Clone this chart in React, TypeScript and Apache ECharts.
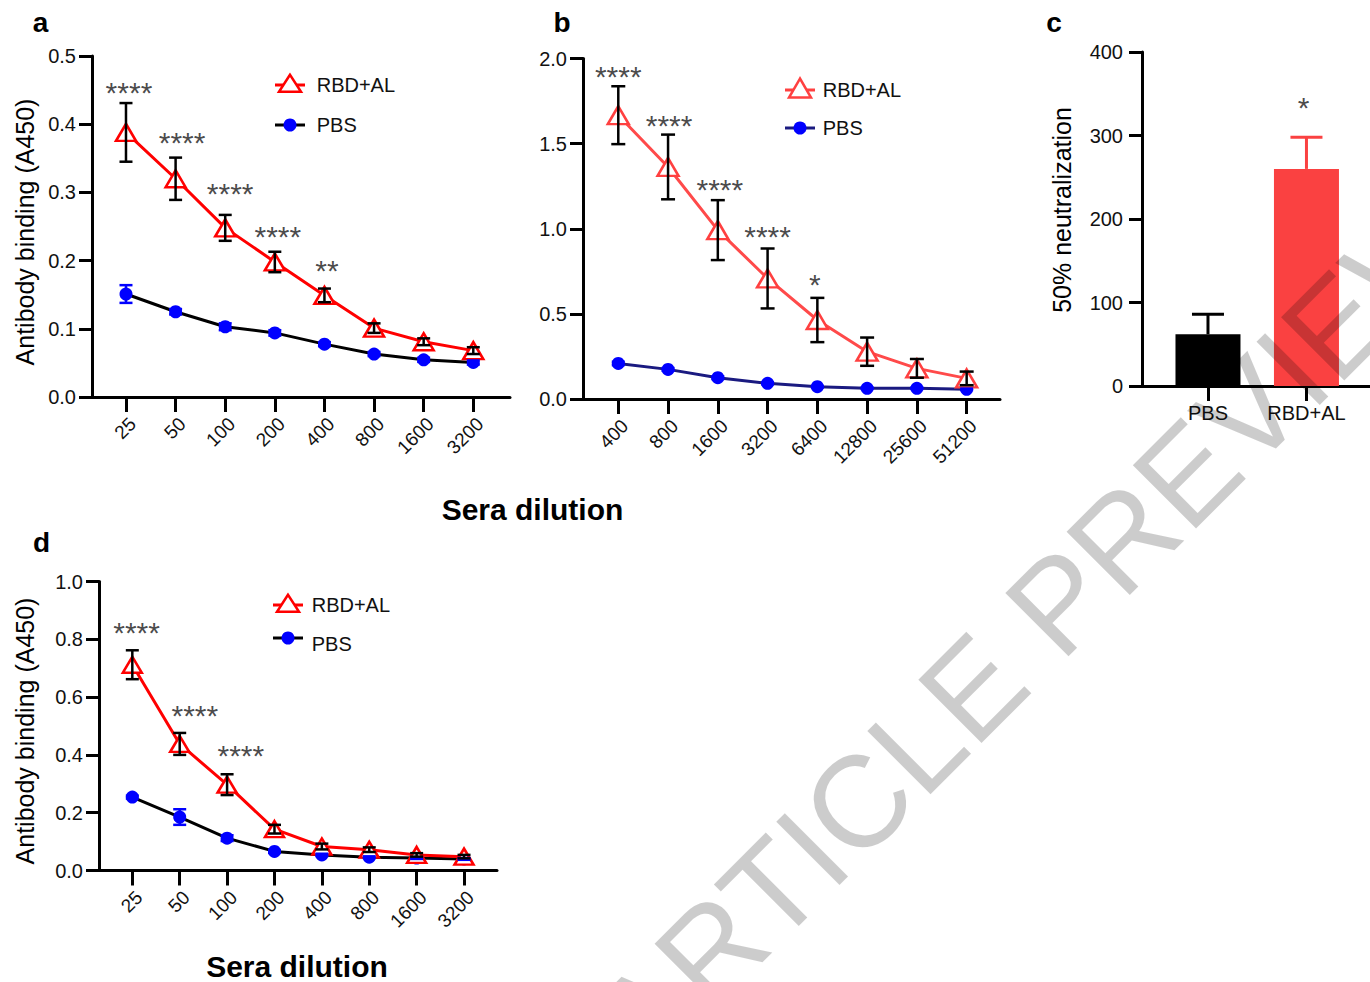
import React, { useEffect, useRef } from 'react';
import * as echarts from 'echarts';

// ---------- Data ----------
const dilutionsA = ['25', '50', '100', '200', '400', '800', '1600', '3200'];
const rbdA = [0.388, 0.32, 0.248, 0.198, 0.149, 0.101, 0.081, 0.068];
const rbdAErr = [0.043, 0.031, 0.019, 0.015, 0.01, 0.007, 0.005, 0.005];
const pbsA = [0.151, 0.125, 0.103, 0.094, 0.0775, 0.063, 0.0545, 0.0506];
const pbsAErr = [0.013, 0.004, 0.005, 0.004, 0.003, 0.003, 0.003, 0.003];
const starsA: [number, number, string][] = [
  [0.06, 0.447, '****'],
  [1.13, 0.3725, '****'],
  [2.1, 0.299, '****'],
  [3.06, 0.235, '****'],
  [4.05, 0.1855, '**'],
];

const dilutionsB = ['400', '800', '1600', '3200', '6400', '12800', '25600', '51200'];
const rbdB = [1.667, 1.363, 0.992, 0.708, 0.464, 0.278, 0.18, 0.121];
const rbdBErr = [0.17, 0.19, 0.176, 0.176, 0.13, 0.083, 0.055, 0.04];
const pbsB = [0.209, 0.174, 0.125, 0.092, 0.072, 0.063, 0.063, 0.057];
const pbsBErr = [0.01, 0.008, 0.008, 0.006, 0.005, 0.004, 0.004, 0.004];
const starsB: [number, number, string][] = [
  [0, 1.893, '****'],
  [1.02, 1.609, '****'],
  [2.04, 1.228, '****'],
  [3, 0.954, '****'],
  [3.95, 0.672, '*'],
];

const groupsC = ['PBS', 'RBD+AL'];
const meanC = [62, 260];
const errC = [24, 38];
const colorsC = ['#000000', '#fa4141'];
const starsC: [number, number, string][] = [[0.97, 334, '*']];

const dilutionsD = ['25', '50', '100', '200', '400', '800', '1600', '3200'];
const rbdD = [0.712, 0.438, 0.297, 0.143, 0.083, 0.072, 0.054, 0.048];
const rbdDErr = [0.05, 0.038, 0.036, 0.015, 0.01, 0.008, 0.006, 0.006];
const pbsD = [0.254, 0.185, 0.112, 0.066, 0.054, 0.046, 0.043, 0.04];
const pbsDErr = [0.005, 0.027, 0.01, 0.005, 0.004, 0.003, 0.003, 0.003];
const starsD: [number, number, string][] = [
  [0.09, 0.824, '****'],
  [1.32, 0.536, '****'],
  [2.29, 0.398, '****'],
];

const FONT = 'Liberation Sans, Arial, Helvetica, sans-serif';

// ---------- helpers ----------
const idx = (n: number) => Array.from({ length: n }, (_, i) => i);

function xAxisCat(gridIndex: number, labels: string[], min: number, max: number, rotate = 45, fontSize = 19) {
  const ticks = idx(labels.length);
  return {
    type: 'value',
    gridIndex,
    min,
    max,
    splitLine: { show: false },
    axisLine: { show: true, onZero: false, lineStyle: { color: '#000', width: 3 } },
    axisTick: { show: true, length: 15, customValues: ticks, lineStyle: { color: '#000', width: 3 } },
    axisLabel: {
      customValues: ticks,
      formatter: (v: number) => labels[Math.round(v)] ?? '',
      rotate,
      fontSize,
      color: '#111',
      fontFamily: FONT,
      margin: 17,
      verticalAlign: rotate ? 'top' : undefined,
    },
  };
}

function yAxisVal(gridIndex: number, max: number, interval: number, digits: number, fontSize = 20, margin = 16) {
  return {
    type: 'value',
    gridIndex,
    min: 0,
    max,
    interval,
    splitLine: { show: false },
    axisLine: { show: true, onZero: false, lineStyle: { color: '#000', width: 3 } },
    axisTick: { show: true, length: 13, lineStyle: { color: '#000', width: 3 } },
    axisLabel: {
      fontSize,
      color: '#111',
      fontFamily: FONT,
      margin,
      formatter: (v: number) => v.toFixed(digits),
    },
  };
}

function lineSeries(
  name: string,
  ai: number,
  values: number[],
  kind: 'tri' | 'dot',
  lineColor: string,
  markColor: string,
  triSize: [number, number] = [20, 17]
) {
  return {
    type: 'line',
    name,
    xAxisIndex: ai,
    yAxisIndex: ai,
    data: values.map((v, i) => [i, v]),
    symbol: kind === 'tri' ? 'triangle' : 'circle',
    symbolSize: kind === 'tri' ? triSize : 13,
    itemStyle:
      kind === 'tri'
        ? { color: '#ffffff', borderColor: markColor, borderWidth: 2.5 }
        : { color: markColor, borderWidth: 0 },
    lineStyle: { color: lineColor, width: 3 },
    z: kind === 'tri' ? 4 : 3,
    silent: true,
  };
}

function errSeries(ai: number, values: number[], errs: number[], color: string, capW: number, upOnly = false, lw = 2.5) {
  return {
    type: 'custom',
    xAxisIndex: ai,
    yAxisIndex: ai,
    data: values.map((v, i) => [i, v, errs[i]]),
    encode: { x: 0, y: 1 },
    clip: false,
    silent: true,
    z: 6,
    renderItem: (_p: any, api: any) => {
      const x = api.value(0);
      const y = api.value(1);
      const e = api.value(2);
      const top = api.coord([x, y + e]);
      const bot = api.coord([x, upOnly ? y : y - e]);
      const st = { stroke: color, lineWidth: lw };
      const children: any[] = [
        { type: 'line', shape: { x1: top[0], y1: top[1], x2: bot[0], y2: bot[1] }, style: st },
        { type: 'line', shape: { x1: top[0] - capW / 2, y1: top[1], x2: top[0] + capW / 2, y2: top[1] }, style: st },
      ];
      if (!upOnly) {
        children.push({
          type: 'line',
          shape: { x1: bot[0] - capW / 2, y1: bot[1], x2: bot[0] + capW / 2, y2: bot[1] },
          style: st,
        });
      }
      return { type: 'group', children };
    },
  };
}

function starSeries(ai: number, stars: [number, number, string][]) {
  return {
    type: 'scatter',
    xAxisIndex: ai,
    yAxisIndex: ai,
    data: stars,
    symbolSize: 1,
    itemStyle: { color: 'rgba(0,0,0,0)' },
    silent: true,
    z: 7,
    label: {
      show: true,
      position: 'inside',
      formatter: (p: any) => p.data[2],
      fontSize: 30,
      color: '#1a1a1a',
      fontFamily: FONT,
    },
  };
}

function legend(x0: number, yR: number, yP: number, yPT: number, redColor: string, pbsLine: string, tri: [number, number], textX: number) {
  const cx = x0 + 15;
  const [w, h] = tri;
  return [
    { type: 'line', shape: { x1: x0, y1: yR, x2: x0 + 30, y2: yR }, style: { stroke: redColor, lineWidth: 3 } },
    {
      type: 'polygon',
      shape: {
        points: [
          [cx, yR - h * 0.6],
          [cx - w / 2, yR + h * 0.4],
          [cx + w / 2, yR + h * 0.4],
        ],
      },
      style: { fill: '#fff', stroke: redColor, lineWidth: 2.5 },
    },
    { type: 'text', x: textX, y: yR, style: { text: 'RBD+AL', fontSize: 20, fontFamily: FONT, fill: '#111', verticalAlign: 'middle', align: 'left' } },
    { type: 'line', shape: { x1: x0, y1: yP, x2: x0 + 30, y2: yP }, style: { stroke: pbsLine, lineWidth: 3 } },
    { type: 'circle', shape: { cx, cy: yP, r: 6.5 }, style: { fill: '#0000ff' } },
    { type: 'text', x: textX, y: yPT, style: { text: 'PBS', fontSize: 20, fontFamily: FONT, fill: '#111', verticalAlign: 'middle', align: 'left' } },
  ];
}

function txt(x: number, y: number, text: string, fontSize: number, bold = false, rotation = 0, extra: any = {}) {
  return {
    type: 'text',
    x,
    y,
    rotation,
    style: {
      text,
      fontSize,
      fontWeight: bold ? 'bold' : 'normal',
      fontFamily: FONT,
      fill: '#000',
      align: 'center',
      verticalAlign: 'middle',
      ...extra,
    },
  };
}

export default function App() {
  const ref = useRef<HTMLDivElement>(null);
  useEffect(() => {
    if (!ref.current) return;
    const chart = echarts.init(ref.current, null, { renderer: 'svg' });
    const option: any = {
      animation: false,
      backgroundColor: '#ffffff',
      textStyle: { fontFamily: FONT },
      grid: [
        { left: 92, top: 56, width: 418, height: 341, outerBoundsMode: 'none', containLabel: false },
        { left: 583, top: 58.5, width: 417, height: 340.5, outerBoundsMode: 'none', containLabel: false },
        { left: 1142, top: 52, width: 240, height: 334, outerBoundsMode: 'none', containLabel: false },
        { left: 99, top: 581.5, width: 398, height: 289, outerBoundsMode: 'none', containLabel: false },
      ],
      xAxis: [
        xAxisCat(0, dilutionsA, -0.685, 7.74),
        xAxisCat(1, dilutionsB, -0.709, 7.67),
        xAxisCat(2, groupsC, -0.67, 1.767, 0, 20),
        xAxisCat(3, dilutionsD, -0.703, 7.696),
      ],
      yAxis: [
        yAxisVal(0, 0.5, 0.1, 1),
        yAxisVal(1, 2, 0.5, 1),
        yAxisVal(2, 400, 100, 0, 20, 19),
        yAxisVal(3, 1, 0.2, 1),
      ],
      series: [
        // panel a
        lineSeries('PBS', 0, pbsA, 'dot', '#000000', '#0000ff'),
        lineSeries('RBD+AL', 0, rbdA, 'tri', '#ff0000', '#ff0000', [20, 17]),
        errSeries(0, pbsA, pbsAErr, '#0000ff', 13),
        errSeries(0, rbdA, rbdAErr, '#000000', 13),
        starSeries(0, starsA),
        // panel b
        lineSeries('PBS', 1, pbsB, 'dot', '#1a1a80', '#0000ff'),
        lineSeries('RBD+AL', 1, rbdB, 'tri', '#ff4a4a', '#ff4040', [21, 18]),
        errSeries(1, pbsB, pbsBErr, '#0000ff', 13),
        errSeries(1, rbdB, rbdBErr, '#000000', 14),
        starSeries(1, starsB),
        // panel c
        {
          type: 'bar',
          xAxisIndex: 2,
          yAxisIndex: 2,
          barWidth: 65,
          data: meanC.map((v, i) => ({ value: [i, v], itemStyle: { color: colorsC[i] } })),
          silent: true,
          z: 2,
        },
        ...meanC.map((v, i) => ({ ...errSeries(2, [v], [errC[i]], colorsC[i], 32, true, 3), data: [[i, v, errC[i]]] })),
        starSeries(2, starsC),
        // panel d
        lineSeries('PBS', 3, pbsD, 'dot', '#000000', '#0000ff'),
        lineSeries('RBD+AL', 3, rbdD, 'tri', '#ff0000', '#ff0000', [19, 16]),
        errSeries(3, pbsD, pbsDErr, '#0000ff', 13),
        errSeries(3, rbdD, rbdDErr, '#000000', 13),
        starSeries(3, starsD),
      ],
      graphic: [
        txt(40.5, 22.3, 'a', 28, true),
        txt(562, 22.3, 'b', 28, true),
        txt(1054, 22, 'c', 28, true),
        txt(41.5, 542, 'd', 28, true),
        txt(25, 232, 'Antibody binding (A450)', 25, false, Math.PI / 2),
        txt(1062, 210, '50% neutralization', 25, false, Math.PI / 2),
        txt(25, 731, 'Antibody binding (A450)', 25, false, Math.PI / 2),
        txt(532.5, 509, 'Sera dilution', 30, true),
        txt(297, 966, 'Sera dilution', 30, true),
        ...legend(275, 85, 125, 125, '#ff0000', '#000000', [22, 17], 316.7),
        ...legend(785, 90, 128, 128.3, '#ff4040', '#1a1a80', [22, 19], 822.7),
        ...legend(273, 605, 638, 644, '#ff0000', '#000000', [22, 17], 311.7),
        {
          ...txt(1035, 626, 'ARTICLE PREVIEW', 130, false, Math.PI / 4, { fill: 'rgba(0,0,0,0.2)' }),
          z: 100,
          silent: true,
        },
      ],
    };
    chart.setOption(option);
    return () => chart.dispose();
  }, []);
  return (
    <div
      ref={ref}
      style={{ position: 'absolute', left: 0, top: 0, width: 1370, height: 982, background: '#fff' }}
    />
  );
}
